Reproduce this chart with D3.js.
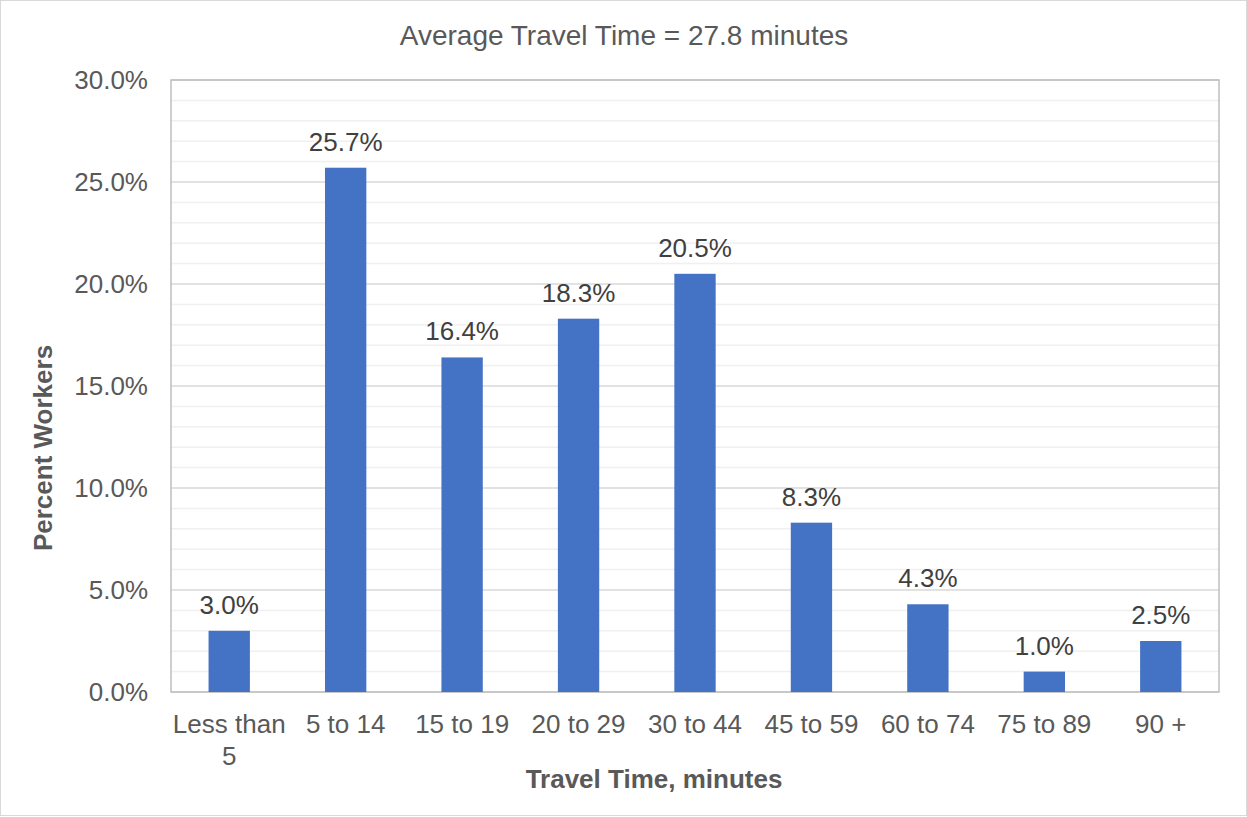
<!DOCTYPE html>
<html>
<head>
<meta charset="utf-8">
<script src="https://cdn.jsdelivr.net/npm/d3@7"></script>
<style>
  html, body { margin: 0; padding: 0; background: #fff; }
  svg { display: block; }
  text { font-family: "Liberation Sans", Arial, sans-serif; }
</style>
</head>
<body>
<svg id="chart" width="1247" height="817"></svg>
<script>
// Commute time distribution (share of workers by travel-time band)
const categories = ["Less than 5", "5 to 14", "15 to 19", "20 to 29", "30 to 44", "45 to 59", "60 to 74", "75 to 89", "90 +"];
const values = [3.0, 25.7, 16.4, 18.3, 20.5, 8.3, 4.3, 1.0, 2.5];
const majorTicks = [0, 5, 10, 15, 20, 25, 30];
const minorTicks = d3.range(0, 31, 1);
const titleText = "Average Travel Time = 27.8 minutes";
const xTitle = "Travel Time, minutes";
const yTitle = "Percent Workers";

const W = 1247, H = 817;
const plot = { left: 171, right: 1219, top: 80, bottom: 692 };
const FS = 26;

const svg = d3.select("#chart");

// outer chart frame
svg.append("rect")
  .attr("x", 0.5).attr("y", 0.5)
  .attr("width", W - 1).attr("height", H - 2)
  .attr("fill", "#fff").attr("stroke", "#d9d9d9");

const x = d3.scaleBand()
  .domain(categories)
  .range([plot.left, plot.right])
  .paddingInner(0.645)
  .paddingOuter(0.3225);

const y = d3.scaleLinear().domain([0, 30]).range([plot.bottom, plot.top]);

// minor gridlines
svg.append("g")
  .selectAll("line")
  .data(minorTicks.filter(d => d % 5 !== 0))
  .join("line")
  .attr("x1", plot.left).attr("x2", plot.right)
  .attr("y1", d => y(d)).attr("y2", d => y(d))
  .attr("stroke", "#f0f0f0").attr("stroke-width", 1.5);

// major gridlines
svg.append("g")
  .selectAll("line")
  .data(majorTicks)
  .join("line")
  .attr("x1", plot.left).attr("x2", plot.right)
  .attr("y1", d => y(d)).attr("y2", d => y(d))
  .attr("stroke", "#d9d9d9").attr("stroke-width", 1.5);

// plot border
svg.append("rect")
  .attr("x", plot.left).attr("y", plot.top)
  .attr("width", plot.right - plot.left).attr("height", plot.bottom - plot.top)
  .attr("fill", "none").attr("stroke", "#bfbfbf").attr("stroke-width", 1.5);

// bars
svg.append("g")
  .selectAll("rect")
  .data(categories.map((c, i) => ({ c, v: values[i] })))
  .join("rect")
  .attr("x", d => x(d.c))
  .attr("width", x.bandwidth())
  .attr("y", d => y(d.v))
  .attr("height", d => y(0) - y(d.v))
  .attr("fill", "#4472c4");

// value labels
svg.append("g")
  .selectAll("text")
  .data(categories.map((c, i) => ({ c, v: values[i] })))
  .join("text")
  .attr("x", d => x(d.c) + x.bandwidth() / 2)
  .attr("y", d => y(d.v) - 17)
  .attr("text-anchor", "middle")
  .attr("font-size", FS)
  .attr("fill", "#404040")
  .text(d => d.v.toFixed(1) + "%");

// y axis labels
const yAxis = d3.axisLeft(y)
  .tickValues(majorTicks)
  .tickSize(0)
  .tickPadding(23)
  .tickFormat(d => d.toFixed(1) + "%");
const yg = svg.append("g").attr("transform", `translate(${plot.left},0)`).call(yAxis);
yg.select(".domain").remove();
yg.selectAll("text")
  .attr("font-size", FS)
  .attr("fill", "#595959")
  .attr("font-family", "Liberation Sans, Arial, sans-serif");

// x axis labels (wrapped to fit the band)
const xAxis = d3.axisBottom(x).tickSize(0).tickPadding(0);
const xg = svg.append("g").attr("transform", `translate(0,${plot.bottom})`).call(xAxis);
xg.select(".domain").remove();
xg.selectAll("text").remove();
xg.selectAll(".tick").each(function (d) {
  const t = d3.select(this).append("text")
    .attr("text-anchor", "middle")
    .attr("font-size", FS)
    .attr("fill", "#595959")
    .attr("font-family", "Liberation Sans, Arial, sans-serif")
    .attr("y", 41);
  const parts = d === "Less than 5" ? ["Less than", "5"] : [d];
  parts.forEach((p, i) => {
    t.append("tspan").attr("x", 0).attr("dy", i === 0 ? 0 : 32).text(p);
  });
});

// chart title
svg.append("text")
  .attr("x", 624)
  .attr("y", 45)
  .attr("text-anchor", "middle")
  .attr("font-size", 28)
  .attr("fill", "#595959")
  .text(titleText);

// axis titles
svg.append("text")
  .attr("x", 654)
  .attr("y", 788)
  .attr("text-anchor", "middle")
  .attr("font-size", FS)
  .attr("font-weight", "bold")
  .attr("fill", "#595959")
  .text(xTitle);

svg.append("text")
  .attr("transform", "translate(52,448) rotate(-90)")
  .attr("text-anchor", "middle")
  .attr("font-size", FS)
  .attr("font-weight", "bold")
  .attr("fill", "#595959")
  .text(yTitle);
</script>
</body>
</html>
